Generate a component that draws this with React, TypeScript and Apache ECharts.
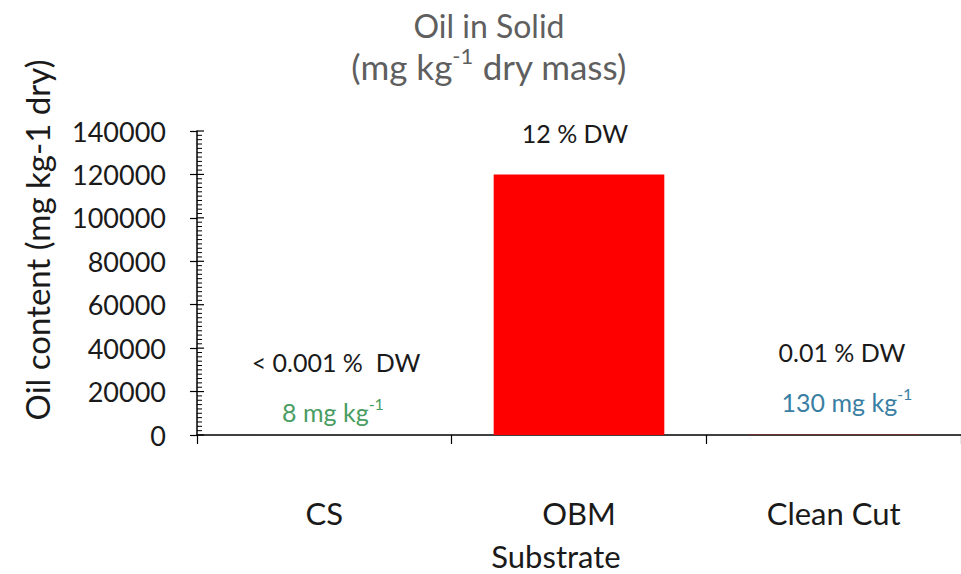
import React, { useEffect, useRef } from "react";
import * as echarts from "echarts";

const categories = ["CS", "OBM", "Clean Cut"];
const oilValues = [8, 120000, 130];
const percentLabels = ["< 0.001 %  DW", "12 % DW", "0.01 % DW"];
const massLabels = ["8 mg kg", "", "130 mg kg"];
const massColors = ["#4a9d62", "", "#3a7fa3"];
const titleLine1 = "Oil in Solid";
const yAxisName = "Oil content (mg kg-1 dry)";
const xAxisName = "Substrate";
const yMax = 140000;
const yMajorStep = 20000;
const yMinorStep = 2000;

const FONT = "Lato";

export default function App() {
  const ref = useRef<HTMLDivElement>(null);
  useEffect(() => {
    if (!ref.current) return;
    const chart = echarts.init(ref.current, null, { renderer: "svg" });
    const supRich = (size: number, color: string) => ({
      a: { fontFamily: FONT, fontSize: size, fill: color, color, lineHeight: size + 4, verticalAlign: "bottom" },
      s: { fontFamily: FONT, fontSize: Math.round(size * 0.62), fill: color, color, lineHeight: size + 4, verticalAlign: "top" },
    });
    const pctPos = [
      [336, 362],
      [575, 133],
      [842, 352],
    ];
    const massPos = [
      [333, 410],
      [0, 0],
      [847, 400],
    ];
    const graphics: any[] = [];
    percentLabels.forEach((t, i) => {
      graphics.push({
        type: "text",
        x: pctPos[i][0],
        y: pctPos[i][1],
        style: { text: t, fontFamily: FONT, fontSize: 25, fill: "#1a1a1a", align: "center", verticalAlign: "middle" },
      });
      if (massLabels[i]) {
        graphics.push({
          type: "text",
          x: massPos[i][0],
          y: massPos[i][1],
          style: {
            text: `{a|${massLabels[i]}}{s|-1}`,
            rich: supRich(25, massColors[i]),
            fill: massColors[i],
            align: "center",
            verticalAlign: "middle",
          },
        });
      }
    });
    graphics.push({
      type: "text",
      x: 37,
      y: 240,
      rotation: Math.PI / 2,
      style: { text: yAxisName, fontFamily: FONT, fontSize: 33, fill: "#1a1a1a", align: "center", verticalAlign: "middle" },
    });
    graphics.push({
      type: "text",
      x: 556,
      y: 556,
      style: { text: xAxisName, fontFamily: FONT, fontSize: 31, fill: "#1a1a1a", align: "center", verticalAlign: "middle" },
    });
    graphics.push({
      type: "text",
      x: 489,
      y: 25,
      style: { text: titleLine1, fontFamily: FONT, fontSize: 32, fill: "#5f5f5f", align: "center", verticalAlign: "middle" },
    });
    graphics.push({
      type: "text",
      x: 489,
      y: 64,
      style: {
        text: "{a|(mg kg}{s|-1}{a| dry mass)}",
        rich: supRich(35, "#5f5f5f"),
        fill: "#5f5f5f",
        align: "center",
        verticalAlign: "middle",
      },
    });

    // inside half of the y-axis ticks (major + minor), positioned through the value axis
    const renderInsideTicks = (params: any, api: any) => {
      const x0 = params.coordSys.x;
      const children: any[] = [];
      for (let v = 0; v <= yMax; v += yMinorStep) {
        const y = api.coord([0, v])[1];
        const isMajor = v % yMajorStep === 0;
        children.push({
          type: "line",
          shape: { x1: x0, y1: y, x2: x0 + (isMajor ? 7 : 5), y2: y },
          style: { stroke: "#000", lineWidth: isMajor ? 1.2 : 1 },
        });
      }
      return { type: "group", children };
    };

    chart.setOption({
      animation: false,
      backgroundColor: "#ffffff",
      grid: { left: 197, top: 131, right: -10, height: 304, containLabel: false },
      xAxis: {
        type: "category",
        data: categories,
        boundaryGap: true,
        axisLine: { show: true, lineStyle: { color: "#000", width: 1.5 } },
        axisTick: { show: true, length: 9, lineStyle: { color: "#000", width: 1.2 } },
        axisLabel: { fontFamily: FONT, fontSize: 31, color: "#1a1a1a", margin: 62 },
      },
      yAxis: {
        type: "value",
        min: 0,
        max: yMax,
        interval: yMajorStep,
        position: "left",
        axisLine: { show: true, lineStyle: { color: "#000", width: 1.5 } },
        axisTick: { show: true, inside: false, length: 7, lineStyle: { color: "#000", width: 1.2 } },
        axisLabel: {
          fontFamily: FONT,
          fontSize: 27,
          color: "#1a1a1a",
          margin: 31,
          formatter: (v: number) => String(v),
        },
        splitLine: { show: false },
      },
      series: [
        {
          type: "bar",
          data: oilValues,
          barCategoryGap: "33%",
          itemStyle: { color: "#ff0000" },
        },
        {
          type: "custom",
          data: [[0, 0]],
          silent: true,
          clip: false,
          renderItem: renderInsideTicks,
          z: 5,
        },
      ],
      graphic: graphics,
    });
    return () => chart.dispose();
  }, []);
  return <div ref={ref} style={{ position: "fixed", left: 0, top: 0, width: 961, height: 574 }} />;
}
